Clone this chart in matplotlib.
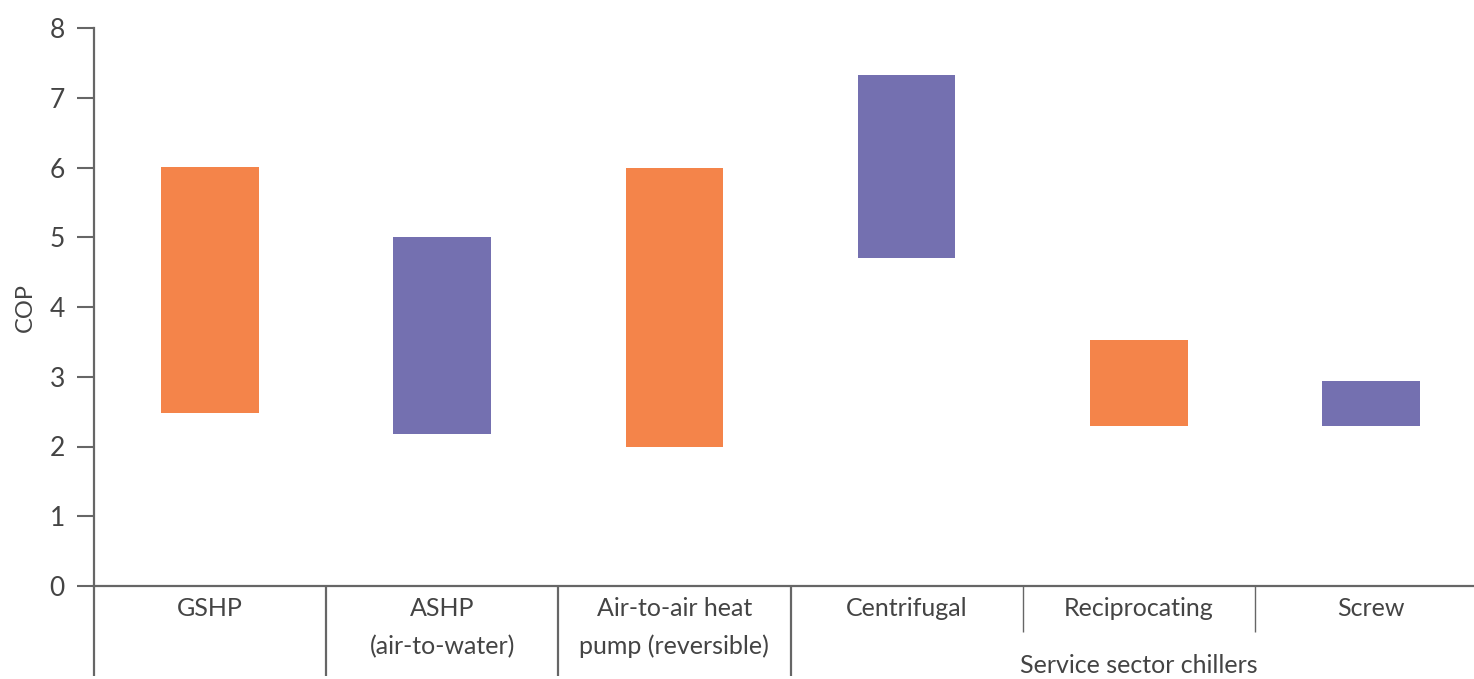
import matplotlib
matplotlib.use("Agg")
import matplotlib.pyplot as plt
import matplotlib.transforms as mtransforms

# COP ranges per technology (low, high)
categories = ["GSHP", "ASHP\n(air-to-water)", "Air-to-air heat\npump (reversible)",
              "Centrifugal", "Reciprocating", "Screw"]
cop_low = [2.48, 2.18, 2.0, 4.7, 2.3, 2.3]
cop_high = [6.0, 5.0, 6.0, 7.32, 3.52, 2.94]
bar_colors = ["#F4844A", "#7470B0", "#F4844A", "#7470B0", "#F4844A", "#7470B0"]
group_label = "Service sector chillers"

text_col = "#444444"
line_col = "#666666"
plt.rcParams['font.family'] = ['Lato', 'DejaVu Sans']

fig = plt.figure(figsize=(14.74, 6.79), dpi=100)
ax = fig.add_axes([94 / 1474, 93 / 679, 1 - 94 / 1474, 558 / 679])

x = list(range(len(categories)))
heights = [h - l for l, h in zip(cop_low, cop_high)]
ax.bar(x, heights, bottom=cop_low, width=0.42, color=bar_colors)

ax.set_xlim(-0.5, 5.444)
ax.set_ylim(0, 8)
ax.set_yticks(range(0, 9))
ax.tick_params(axis='y', length=12, width=1.5, color=line_col, pad=9,
               labelsize=19, labelcolor=text_col)
ax.set_xticks([])
ax.set_ylabel("COP", fontsize=17, color=text_col, labelpad=10)

for side in ("top", "right"):
    ax.spines[side].set_visible(False)
for side in ("left", "bottom"):
    ax.spines[side].set_color(line_col)
    ax.spines[side].set_linewidth(1.6)

# separators between the category cells below the axis
trans = mtransforms.blended_transform_factory(ax.transData, ax.transAxes)
for xs in [-0.5, 0.5, 1.5, 2.5]:
    ax.plot([xs, xs], [0, -0.161], transform=trans, color=line_col,
            lw=1.6, clip_on=False, solid_capstyle='butt')
for xs in [3.5, 4.5]:
    ax.plot([xs, xs], [0, -0.082], transform=trans, color=line_col,
            lw=1.0, clip_on=False, solid_capstyle='butt')

for xi, lab in zip(x, categories):
    ax.text(xi, -0.02, lab, transform=trans, ha='center', va='top',
            fontsize=18, color=text_col, linespacing=1.75)

ax.text(4.0, -0.143, group_label, transform=trans, ha='center',
        va='center', fontsize=18, color=text_col)

fig.savefig("out.png", dpi=100)
